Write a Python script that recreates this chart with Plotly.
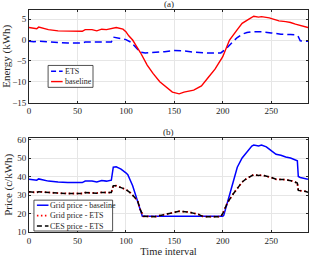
import plotly.graph_objects as go

# Panel (a): Energy (kWh)
ets_x = [0, 5, 10, 20, 30, 40, 55, 58, 65, 70, 75, 85, 87, 90, 95, 100, 105, 110, 115, 120, 130, 140, 150, 160, 170, 175, 185, 198, 203, 210, 215, 220, 225, 230, 240, 250, 260, 270, 276, 278, 280, 288]
ets_y = [-0.3, -0.4, -0.3, -0.5, -0.6, -0.7, -0.7, -0.5, -0.5, -0.6, -0.5, -0.5, 0.7, 0.6, 0.4, 0.1, -0.5, -1.6, -2.9, -3.1, -3.0, -2.8, -2.5, -2.6, -2.9, -3.0, -3.1, -3.1, -2.2, -0.5, 0.6, 1.4, 1.8, 2.0, 2.0, 1.7, 1.4, 1.3, 1.2, 0.8, -0.2, -0.3]
base_x = [0, 8, 10, 15, 20, 30, 40, 55, 58, 65, 70, 75, 80, 85, 90, 97, 100, 103, 107, 111, 115, 122, 128, 135, 140, 148, 155, 160, 170, 178, 185, 192, 200, 207, 215, 220, 227, 232, 237, 240, 248, 253, 258, 265, 270, 275, 282, 288]
base_y = [3.0, 2.7, 3.1, 2.8, 2.5, 2.2, 2.1, 2.1, 2.5, 2.5, 2.2, 2.6, 2.5, 2.8, 3.0, 2.6, 2.0, 1.0, 0.0, -1.5, -3.0, -6.0, -8.0, -10.0, -11.0, -12.5, -12.9, -12.5, -12.0, -11.0, -9.0, -7.0, -4.0, 0.0, 2.5, 4.0, 5.0, 5.7, 5.5, 5.6, 5.3, 5.0, 4.6, 4.4, 4.2, 3.8, 3.4, 3.0]

# Panel (b): Price (c/kWh)
gb_x = [0, 8, 10, 15, 20, 30, 40, 55, 58, 65, 70, 75, 80, 85, 87, 90, 95, 100, 102, 107, 112, 117, 200, 201, 207, 215, 220, 225, 230, 232, 237, 240, 245, 250, 255, 260, 265, 270, 277, 278, 280, 288]
gb_y = [38.5, 38.0, 38.7, 38.0, 37.5, 37.0, 36.7, 36.7, 37.5, 37.5, 37.0, 37.8, 37.5, 38.0, 45.0, 45.2, 44.0, 42.0, 41.0, 35.0, 27.0, 18.5, 18.5, 19.0, 30.0, 45.0, 50.0, 53.0, 56.5, 57.0, 56.5, 57.0, 56.0, 54.0, 52.0, 51.5, 50.5, 50.0, 48.5, 40.0, 39.5, 38.5]
ge_x = [0, 8, 10, 20, 30, 40, 55, 58, 65, 70, 75, 85, 87, 90, 95, 100, 105, 112, 115, 118, 130, 140, 150, 155, 165, 175, 180, 198, 200, 205, 210, 220, 225, 232, 237, 240, 250, 255, 265, 272, 277, 278, 285, 288]
ge_y = [31.7, 31.3, 31.8, 31.3, 31.0, 30.8, 30.8, 31.3, 31.2, 31.0, 31.4, 31.3, 35.0, 35.0, 34.0, 33.0, 31.0, 27.0, 22.0, 18.5, 18.3, 19.5, 21.0, 21.2, 20.8, 19.5, 18.3, 18.3, 20.0, 26.0, 30.0, 37.0, 39.0, 41.0, 40.5, 40.8, 39.5, 38.5, 38.3, 37.5, 36.5, 32.5, 32.0, 31.5]

x_ticks = [0, 50, 100, 150, 200, 250]
ya_ticks = [-15, -10, -5, 0, 5]
yb_ticks = [10, 20, 30, 40, 50, 60]

legend_a = ["ETS", "baseline"]
legend_b = ["Grid price - baseline", "Grid price - ETS", "CES price - ETS"]

FONT = "Liberation Serif"
TXT = "#262626"

styles = {
    "ETS": dict(color="#0000ff", width=1.5, dash="7px,4px"),
    "baseline": dict(color="#ff0000", width=1.4),
    "Grid price - baseline": dict(color="#0000ff", width=1.5),
    "Grid price - ETS": dict(color="#ff0000", width=1.8, dash="1.5px,2.5px"),
    "CES price - ETS": dict(color="#000000", width=1.5, dash="5px,3px"),
}

fig = go.Figure()
fig.add_trace(go.Scatter(x=ets_x, y=ets_y, mode="lines", name="ETS",
                         line=styles["ETS"], xaxis="x", yaxis="y"))
fig.add_trace(go.Scatter(x=base_x, y=base_y, mode="lines", name="baseline",
                         line=styles["baseline"], xaxis="x", yaxis="y"))
fig.add_trace(go.Scatter(x=gb_x, y=gb_y, mode="lines", name="Grid price - baseline",
                         line=styles["Grid price - baseline"], xaxis="x2", yaxis="y2"))
fig.add_trace(go.Scatter(x=ge_x, y=ge_y, mode="lines", name="Grid price - ETS",
                         line=styles["Grid price - ETS"], xaxis="x2", yaxis="y2"))
fig.add_trace(go.Scatter(x=ge_x, y=ge_y, mode="lines", name="CES price - ETS",
                         line=styles["CES price - ETS"], xaxis="x2", yaxis="y2"))

ax_common = dict(showline=True, linecolor=TXT, linewidth=0.8, mirror="ticks",
                 ticks="inside", ticklen=2, tickcolor=TXT,
                 showgrid=True, gridcolor="#e6e6e6", gridwidth=0.8, zeroline=False,
                 tickfont=dict(family=FONT, size=9, color=TXT))

# Geometry in pixels -> paper coords
W, H = 312, 257
ML, MR, MT, MB = 27, 3, 10, 24
PW, PH = W - ML - MR, H - MT - MB
px = lambda v: (v - ML) / PW
py = lambda v: (H - MB - v) / PH

LFS = 8.0               # legend font size
LSP = LFS * 1.3         # plotly multi-line spacing

shapes = []
annotations = []

def add_legend(box, sample_x, text_x, names):
    x0, y0, x1, y1 = box
    shapes.append(dict(type="rect", xref="paper", yref="paper",
                       x0=px(x0), x1=px(x1), y0=py(y1), y1=py(y0),
                       line=dict(color=TXT, width=0.8), fillcolor="white", layer="above"))
    yc = (y0 + y1) / 2
    n = len(names)
    for i, nm in enumerate(names):
        ry = yc + (i - (n - 1) / 2) * LSP
        st = dict(styles[nm])
        if nm == "ETS":
            st["dash"] = "5px,3px"
        shapes.append(dict(type="line", xref="paper", yref="paper",
                           x0=px(sample_x[0]), x1=px(sample_x[1]), y0=py(ry), y1=py(ry),
                           line=st, layer="above"))
    annotations.append(dict(text="<br>".join(names), x=px(text_x), y=py(yc),
                            xref="paper", yref="paper", xanchor="left", yanchor="middle",
                            align="left", showarrow=False, borderpad=0,
                            font=dict(family=FONT, size=LFS, color=TXT)))

add_legend((46.3, 65.7, 91.7, 87.7), (49.3, 61.0), 62.5, legend_a)
add_legend((32.0, 201.0, 111.5, 232.0), (35.0, 46.7), 47.5, legend_b)

annotations.append(dict(text="(a)", x=0.5, y=1, xref="paper", yref="paper", xanchor="center",
                        yanchor="bottom", showarrow=False, yshift=-1,
                        font=dict(family=FONT, size=9, color=TXT)))
annotations.append(dict(text="(b)", x=0.5, y=0.425, xref="paper", yref="paper", xanchor="center",
                        yanchor="bottom", showarrow=False, yshift=-1,
                        font=dict(family=FONT, size=9, color=TXT)))

fig.update_layout(
    width=W, height=H,
    margin=dict(l=ML, r=MR, t=MT, b=MB),
    paper_bgcolor="white", plot_bgcolor="white",
    font=dict(family=FONT, size=9, color=TXT),
    showlegend=False,
    xaxis=dict(domain=[0, 1], range=[0, 288], tickvals=x_ticks, anchor="y", **ax_common),
    yaxis=dict(domain=[0.583, 1], range=[-15, 7.2], tickvals=ya_ticks, anchor="x",
               title=dict(text="Energy (kWh)", font=dict(family=FONT, size=11), standoff=2), **ax_common),
    xaxis2=dict(domain=[0, 1], range=[0, 288], tickvals=x_ticks, anchor="y2",
                title=dict(text="Time interval", font=dict(family=FONT, size=10.5), standoff=1), **ax_common),
    yaxis2=dict(domain=[0, 0.425], range=[10, 61], tickvals=yb_ticks, anchor="x2",
                title=dict(text="Price (c/kWh)", font=dict(family=FONT, size=11), standoff=2), **ax_common),
    shapes=shapes,
    annotations=annotations,
)

fig.write_html("out.html", config={"displayModeBar": False},
               post_script="document.body.style.margin='0';document.body.style.overflow='hidden';")
